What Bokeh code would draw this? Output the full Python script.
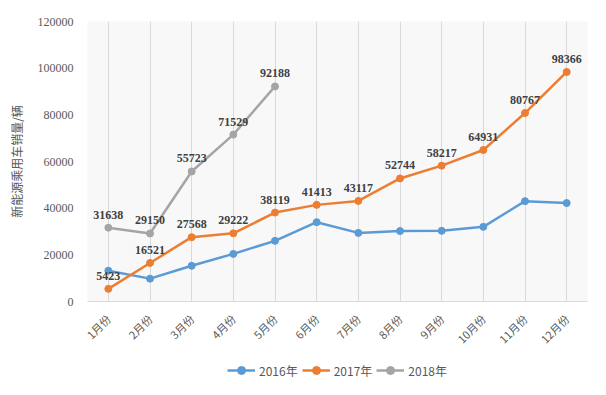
import math
from bokeh.plotting import figure
from bokeh.layouts import column
from bokeh.models import (ColumnDataSource, LabelSet, Legend, LegendItem,
                          SingleIntervalTicker, NumeralTickFormatter, FactorRange, Range1d)
from bokeh.core.properties import value
from bokeh.embed import file_html
from bokeh.resources import INLINE

months = ["1月份", "2月份", "3月份", "4月份", "5月份", "6月份",
          "7月份", "8月份", "9月份", "10月份", "11月份", "12月份"]
sales_2016 = [13200, 9800, 15300, 20400, 26000, 34000, 29400, 30200, 30300, 32000, 43000, 42200]
sales_2017 = [5423, 16521, 27568, 29222, 38119, 41413, 43117, 52744, 58217, 64931, 80767, 98366]
sales_2018 = [31638, 29150, 55723, 71529, 92188]
y_label = "新能源乘用车销量/辆"
series_names = ["2016年", "2017年", "2018年"]

p = figure(width=590, height=355, x_range=FactorRange(*months, range_padding=0),
           y_range=(0, 120000), output_backend="svg", toolbar_location=None,
           min_border_left=87, min_border_right=3, min_border_top=21, min_border_bottom=52)

p.background_fill_color = "#f8f8f9"
p.border_fill_color = "white"
p.outline_line_color = None

colors = ["#5B9BD5", "#ED7D31", "#A5A5A5"]
data = [sales_2016, sales_2017, sales_2018]
sources = []
for name, vals, c in zip(series_names, data, colors):
    src = ColumnDataSource(dict(x=months[:len(vals)], y=vals, t=[str(v) for v in vals]))
    p.line("x", "y", source=src, line_color=c, line_width=2.5)
    p.scatter("x", "y", source=src, size=7, fill_color=c, line_color=c)
    sources.append(src)

for src in sources[1:]:
    labels = LabelSet(x="x", y="y", text="t", source=src, y_offset=9,
                      text_align="center", text_baseline="bottom",
                      text_font=value("Liberation Serif"), text_font_style="bold",
                      text_font_size="12px", text_color="#404040")
    p.add_layout(labels)

p.yaxis.ticker = SingleIntervalTicker(interval=20000)
p.yaxis.formatter = NumeralTickFormatter(format="0")
p.yaxis.axis_line_color = None
p.yaxis.major_tick_line_color = None
p.yaxis.minor_tick_line_color = None
p.yaxis.major_label_standoff = 8
p.yaxis.major_label_text_font = "Liberation Serif"
p.yaxis.major_label_text_font_size = "12px"
p.yaxis.major_label_text_color = "#595959"
p.yaxis.axis_label = y_label
p.yaxis.axis_label_standoff = 10
p.yaxis.axis_label_text_font = "Noto Sans CJK SC"
p.yaxis.axis_label_text_font_size = "12px"
p.yaxis.axis_label_text_font_style = "normal"
p.yaxis.axis_label_text_color = "#595959"

p.xaxis.axis_line_color = "#d9d9d9"
p.xaxis.major_tick_line_color = None
p.xaxis.minor_tick_line_color = None
p.xaxis.major_label_orientation = math.pi / 4
p.xaxis.major_label_standoff = 9
p.xaxis.major_label_text_font = "Noto Sans CJK SC"
p.xaxis.major_label_text_font_size = "11px"
p.xaxis.major_label_text_color = "#595959"

p.ygrid.grid_line_color = None
p.xgrid.grid_line_color = "#d9d9d9"

# legend strip (a separate small figure holding only the legend)
lg = figure(width=590, height=30, x_range=Range1d(0, 1), y_range=Range1d(0, 1),
            output_backend="svg", toolbar_location=None,
            min_border_left=0, min_border_right=0, min_border_top=0, min_border_bottom=0)
lg.axis.visible = False
lg.grid.visible = False
lg.outline_line_color = None
lg.background_fill_color = "white"
items = []
for name, c in zip(series_names, colors):
    hidden = ColumnDataSource(dict(x=[-5, -4], y=[-5, -4]))
    l = lg.line("x", "y", source=hidden, line_color=c, line_width=2.5)
    s = lg.scatter("x", "y", source=hidden, size=7, fill_color=c, line_color=c)
    items.append(LegendItem(label=name, renderers=[l, s]))
legend = Legend(items=items, orientation="horizontal", location="center",
                label_text_font="Noto Sans CJK SC", label_text_font_size="12px",
                label_text_color="#595959", border_line_color=None,
                background_fill_alpha=0, glyph_width=28, label_standoff=4,
                spacing=4, padding=0, margin=0)
lg.add_layout(legend)

layout = column(p, lg, spacing=0)
open("out.html", "w").write(file_html(layout, INLINE))
